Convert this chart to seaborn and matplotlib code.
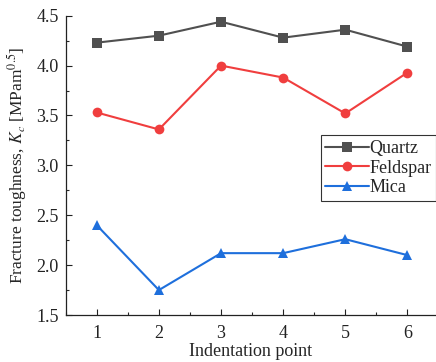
import matplotlib
matplotlib.use("Agg")
import matplotlib.pyplot as plt
import seaborn as sns
import pandas as pd
from matplotlib.ticker import MultipleLocator

points = [1, 2, 3, 4, 5, 6]
quartz = [4.23, 4.30, 4.44, 4.28, 4.36, 4.19]
feldspar = [3.53, 3.36, 4.00, 3.88, 3.52, 3.93]
mica = [2.40, 1.75, 2.12, 2.12, 2.26, 2.10]
series_names = ["Quartz", "Feldspar", "Mica"]
colors = ["#505050", "#F03E3E", "#1E6FDC"]
markers = ["s", "o", "^"]

sns.set_theme(style="white")
plt.rcParams['font.family'] = ['Liberation Serif', 'DejaVu Serif']
plt.rcParams['mathtext.fontset'] = 'stix'

df = pd.DataFrame({
    "Indentation point": points * 3,
    "Kc": quartz + feldspar + mica,
    "Mineral": sum([[n] * len(points) for n in series_names], []),
})

fig = plt.figure(figsize=(4.36, 3.62), dpi=100)
ax = fig.add_axes([0.1507, 0.1298, 0.8493, 0.8268])

sns.lineplot(data=df, x="Indentation point", y="Kc", hue="Mineral", style="Mineral",
             palette=colors, markers=markers, dashes=False, markersize=7,
             markeredgewidth=0, linewidth=1.5, ax=ax)

ax.set_xlim(0.5, 6.46)
ax.set_ylim(1.5, 4.5)
ax.xaxis.set_major_locator(MultipleLocator(1))
ax.xaxis.set_minor_locator(MultipleLocator(0.5))
ax.yaxis.set_minor_locator(MultipleLocator(0.25))
ax.set_yticks([1.5, 2.0, 2.5, 3.0, 3.5, 4.0, 4.5])
ax.set_yticklabels([f"{v:.1f}" for v in ax.get_yticks()])
ax.tick_params(which='major', direction='in', length=4, width=0.8, labelsize=13, colors='#222222')
ax.tick_params(which='minor', direction='in', length=2.2, width=0.8)
ax.tick_params(axis='both', which='both', bottom=True, left=True)
ax.tick_params(axis='x', which='major', pad=7)
ax.tick_params(axis='y', which='major', pad=5)
for s in ['top', 'right']:
    ax.spines[s].set_visible(False)
for s in ['left', 'bottom']:
    ax.spines[s].set_color('#222222')
    ax.spines[s].set_linewidth(0.9)

ax.set_xlabel("Indentation point", fontsize=13, labelpad=1)
ax.set_ylabel(r"Fracture toughness, $K_c$ [MPam$^{0.5}$]", fontsize=12.5, labelpad=5)

leg = ax.legend(loc='upper left', bbox_to_anchor=(0.689, 0.60), fontsize=13, frameon=True,
                fancybox=False, edgecolor='black', borderpad=0.25, handlelength=2.4,
                handletextpad=0.05, labelspacing=0.15, borderaxespad=0)
leg.get_frame().set_linewidth(0.8)
leg.set_title(None)

fig.savefig("out.png", dpi=100)
